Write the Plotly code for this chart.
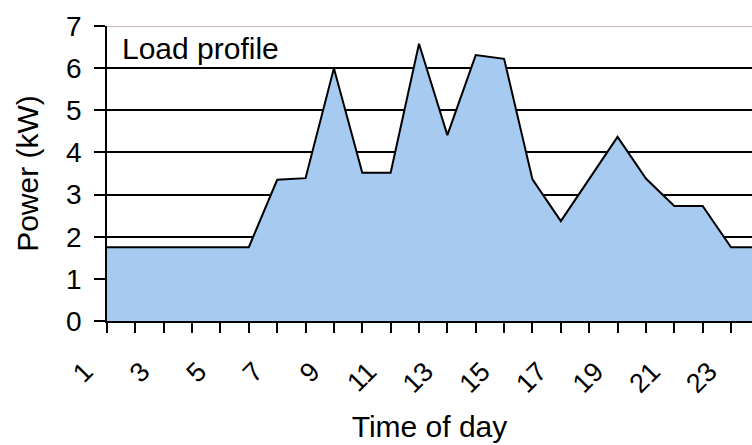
import plotly.graph_objects as go

# Hourly household load (kW), hours 1..24
hours = list(range(1, 25))
power_kw = [1.75, 1.75, 1.75, 1.75, 1.75, 1.75, 3.35, 3.39, 6.0, 3.52,
            3.52, 6.58, 4.41, 6.31, 6.22, 3.36, 2.37, 3.36, 4.37, 3.38,
            2.73, 2.73, 1.75, 1.75]
y_ticks = [0, 1, 2, 3, 4, 5, 6, 7]
x_label_ticks = list(range(1, 24, 2))

FONT = "Liberation Sans, Arial, sans-serif"

fig = go.Figure()
fig.add_trace(go.Scatter(
    x=hours, y=power_kw, mode="lines",
    fill="tozeroy", fillcolor="#a6caf0",
    line=dict(color="black", width=2, shape="linear"),
    hoverinfo="skip", showlegend=False,
))

# pale top border of the plot area at 7 kW
fig.add_shape(type="line", xref="paper", yref="y", x0=0, x1=1, y0=7, y1=7,
              line=dict(color="#bf9f9c", width=1.5), layer="above")

fig.add_annotation(text="Load profile", xref="paper", yref="paper",
                   x=0.02, y=0.985, xanchor="left", yanchor="top",
                   showarrow=False, font=dict(family=FONT, size=30, color="black"))

fig.update_layout(
    width=752, height=445,
    margin=dict(l=107, r=0, t=26, b=124),
    paper_bgcolor="white", plot_bgcolor="white",
    font=dict(family=FONT, color="black"),
)
fig.update_xaxes(
    range=[1, 23.74],
    tickmode="array", tickvals=x_label_ticks, ticktext=[str(v) for v in x_label_ticks],
    tickangle=-45, tickfont=dict(size=27),
    ticks="outside", ticklen=10, tickcolor="black", tickwidth=1.5,
    minor=dict(dtick=1, tick0=1, ticks="outside", ticklen=10, tickcolor="black", tickwidth=1.5, showgrid=False),
    ticklabelstandoff=12, ticklabelshift=-22,
    showline=True, linecolor="black", linewidth=1.8,
    showgrid=False, zeroline=False,
    title=dict(text="Time of day", font=dict(size=30), standoff=18),
)
fig.update_yaxes(
    range=[0, 7],
    tickmode="array", tickvals=y_ticks,
    tickfont=dict(size=28),
    ticks="outside", ticklen=11, tickcolor="black", tickwidth=1.5,
    ticklabelstandoff=7,
    showline=True, linecolor="black", linewidth=1.8,
    showgrid=True, gridcolor="black", gridwidth=1.6, zeroline=False,
    title=dict(text="Power (kW)", font=dict(size=30), standoff=18),
)

fig.write_html("out.html")
